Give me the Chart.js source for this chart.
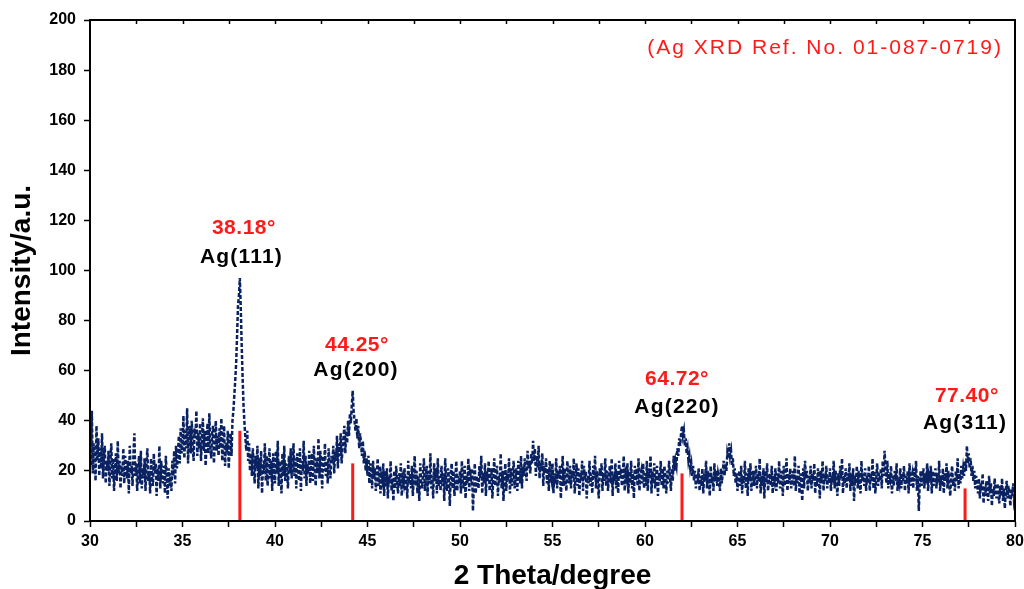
<!DOCTYPE html>
<html>
<head>
<meta charset="utf-8">
<script src="https://cdn.jsdelivr.net/npm/chart.js@4.4.1/dist/chart.umd.min.js"></script>
<style>
html,body{margin:0;padding:0;background:#fff;}
#wrap{width:1024px;height:589px;position:relative;}
</style>
</head>
<body>
<div id="wrap"><canvas id="c" width="1024" height="589"></canvas></div>
<script>
// ---- data ----
const thetaStart = 30;
const thetaStep = 0.05;
const intensity = [
 36,22,44,19,31,27,16,38,24,33,18,29,21,35,17,26,30,15,24,20,
 28,14,23,31,17,25,12,21,27,16,32,19,24,13,22,18,29,15,26,20,
 17,24,11,30,19,22,14,27,35,18,23,12,20,26,15,28,13,21,17,25,
 12,22,29,16,20,11,25,18,14,27,19,23,10,21,16,30,13,24,18,15,
 22,11,26,17,9,21,14,19,12,24,18,28,15,30,21,26,34,23,37,27,
 31,42,25,36,29,45,23,34,38,27,40,30,24,37,33,44,26,35,29,39,
 24,33,41,28,36,22,31,39,27,43,30,25,35,38,23,32,40,28,34,26,
 37,29,41,24,33,38,22,31,27,36,21,30,35,26,40,44,50,56,63,74,
 86,90,97,85,70,57,46,39,33,28,36,24,31,20,27,18,29,22,15,26,
 21,30,13,25,18,28,11,23,19,31,16,26,14,22,29,17,24,12,27,20,
 15,28,19,32,14,24,21,11,27,18,30,16,23,20,13,26,19,29,17,22,
 31,18,25,13,27,21,16,29,12,24,20,32,17,26,14,23,19,28,15,22,
 27,16,30,21,14,25,19,33,17,28,22,13,26,20,31,18,24,15,29,21,
 17,26,23,30,19,28,24,34,21,31,26,35,23,29,33,38,27,36,31,40,
 34,43,39,46,52,44,40,36,41,33,38,29,35,31,26,32,23,28,20,25,
 18,26,15,23,20,13,24,17,21,12,19,25,14,22,11,18,16,23,10,20,
 14,21,9,18,15,24,12,17,8,20,13,22,16,11,19,14,23,10,17,15,
 21,12,18,9,24,15,19,13,22,10,17,26,14,20,11,18,8,23,16,13,
 19,25,12,17,22,10,20,15,27,13,18,9,23,16,21,11,25,14,18,12,
 22,14,19,8,25,16,12,21,17,6,19,23,13,20,10,17,24,12,18,15,
 20,11,24,16,13,22,9,18,15,25,12,19,17,21,4,14,23,11,18,16,
 13,22,17,26,11,19,15,23,10,20,16,24,12,18,21,9,17,25,14,19,
 22,10,18,15,27,13,20,8,17,23,12,19,16,25,11,21,14,18,24,13,
 17,21,12,24,19,15,26,13,22,18,25,20,16,28,21,24,19,27,23,32,
 24,29,18,26,21,30,17,23,20,27,14,22,19,25,15,21,12,24,18,16,
 23,11,19,15,25,13,20,17,22,9,18,26,14,21,16,12,24,19,15,22,
 13,20,17,25,11,18,23,14,21,10,19,16,24,12,22,17,20,9,18,15,
 24,14,19,11,22,17,26,13,20,15,9,21,18,23,12,19,16,25,14,20,
 12,18,22,15,25,10,19,16,23,13,20,11,24,17,21,14,18,26,12,19,
 17,23,11,20,15,24,13,19,9,22,16,21,14,25,12,18,20,15,23,13,
 19,14,24,12,21,17,26,11,20,15,23,13,18,22,10,19,16,24,14,21,
 13,22,17,11,20,15,24,18,12,21,16,26,20,24,22,29,26,33,30,35,
 38,34,36,30,33,27,29,24,26,21,23,18,22,16,20,13,19,15,21,12,
 18,14,21,11,19,16,24,13,20,17,10,22,15,18,12,23,16,20,14,19,
 17,12,21,15,19,24,18,23,20,27,25,31,26,28,22,25,18,21,15,19,
 12,17,20,14,22,11,18,15,24,13,19,10,21,16,23,12,17,20,14,18,
 22,13,19,16,25,11,18,14,21,9,20,15,23,12,17,19,14,22,11,18,
 16,21,12,19,15,24,13,20,17,10,22,14,18,25,12,19,15,21,13,17,
 20,14,26,12,18,15,22,11,19,16,8,21,13,24,17,20,12,18,15,22,
 13,19,16,23,11,18,14,21,17,9,20,15,24,12,19,16,22,13,18,15,
 21,12,18,15,24,13,20,16,10,19,14,22,17,25,11,18,15,21,13,19,
 16,23,12,19,14,21,8,18,15,22,13,20,17,11,24,16,19,14,21,12,
 18,15,22,12,19,16,25,13,20,11,17,23,14,19,16,21,13,24,18,28,
 21,15,24,13,19,17,22,11,18,14,20,16,23,12,17,15,21,13,19,16,
 22,12,18,15,20,11,23,14,17,19,13,21,16,24,12,18,4,15,20,14,
 17,21,13,19,15,23,12,18,16,22,11,20,14,17,21,13,19,15,24,12,
 18,14,21,11,19,16,23,13,20,15,10,18,22,14,17,12,20,16,25,13,
 19,15,22,17,21,18,24,20,30,23,27,21,25,18,22,16,20,13,18,15,
 11,17,9,15,12,19,7,14,10,16,13,8,18,11,15,6,13,10,17,12,
 9,15,11,7,14,10,17,8,13,5,12,16,9,14,11,6,13,10,15,8,
 10
];
const refPositions = [38.1, 44.2, 62.0, 77.3];
const refHeights = [36, 23, 19, 13];
const peakAngles = ['38.18°', '44.25°', '64.72°', '77.40°'];
const peakPlanes = ['Ag(111)', 'Ag(200)', 'Ag(220)', 'Ag(311)'];
const refCardText = '(Ag XRD Ref. No. 01-087-0719)';
const xTickLabels = [30,35,40,45,50,55,60,65,70,75,80];
const yTickLabels = [0,20,40,60,80,100,120,140,160,180,200];

// ---- build ----
const xrdPoints = intensity.map((v, i) => ({x: +(thetaStart + i * thetaStep).toFixed(2), y: v}));
const refDatasets = refPositions.map((p, i) => ({
  type: 'line',
  data: [{x: p, y: 0}, {x: p, y: refHeights[i]}],
  borderColor: '#ff1a1a',
  borderWidth: 3,
  pointRadius: 0,
  order: 0
}));

// label anchor positions in data space (annotation layout)
const angleAnchors = [[38.32,117],[44.43,70.3],[61.73,56.7],[77.4,50]];
const planeAnchors = [[38.19,105.4],[44.38,60],[61.73,45.5],[77.3,39]];

const FONT = "'Liberation Sans', Arial, sans-serif";

const framePlugin = {
  id: 'frame',
  afterDatasetsDraw(chart) {
    const {ctx, chartArea: a, scales: {x, y}} = chart;
    ctx.save();
    ctx.strokeStyle = '#000';
    ctx.lineWidth = 1.5;
    for (let v = 32.5; v < 80; v += 2.5) {
      const px = Math.round(x.getPixelForValue(v)) + 0.5;
      ctx.beginPath(); ctx.moveTo(px, a.top); ctx.lineTo(px, a.top + 4); ctx.stroke();
    }
    ctx.lineWidth = 2;
    ctx.strokeRect(a.left, a.top, a.right - a.left, a.bottom - a.top);
    ctx.textAlign = 'center';
    ctx.textBaseline = 'middle';
    peakAngles.forEach((t, i) => {
      ctx.font = 'bold 21px ' + FONT;
      ctx.letterSpacing = '0.5px';
      ctx.fillStyle = '#ff1a1a';
      ctx.fillText(t, x.getPixelForValue(angleAnchors[i][0]), y.getPixelForValue(angleAnchors[i][1]));
      ctx.letterSpacing = '1.2px';
      ctx.fillStyle = '#000';
      ctx.fillText(peakPlanes[i], x.getPixelForValue(planeAnchors[i][0]), y.getPixelForValue(planeAnchors[i][1]));
    });
    ctx.font = '21px ' + FONT;
    ctx.letterSpacing = '2px';
    ctx.fillStyle = '#ff1a1a';
    ctx.textAlign = 'right';
    ctx.fillText(refCardText, x.getPixelForValue(79.35), y.getPixelForValue(188.6));
    ctx.restore();
  }
};

new Chart(document.getElementById('c'), {
  type: 'line',
  data: {
    datasets: [
      ...refDatasets,
      {
        data: xrdPoints,
        borderColor: '#0a2262',
        borderWidth: 2.5,
        borderDash: [4, 2],
        pointRadius: 0,
        tension: 0,
        order: 1
      }
    ]
  },
  options: {
    responsive: false,
    animation: false,
    events: [],
    layout: {padding: {left: 0, top: 20, right: 9, bottom: 0}},
    plugins: {legend: {display: false}, tooltip: {enabled: false}},
    scales: {
      x: {
        type: 'linear',
        min: 30, max: 80,
        afterBuildTicks(s) {
          const t = [];
          for (let v = 30; v <= 80.001; v += 2.5) t.push({value: v});
          s.ticks = t;
        },
        afterFit(s) { s.height = 68; s.paddingLeft = 0; s.paddingRight = 0; },
        grid: {display: true, drawOnChartArea: false, tickLength: 6, color: '#000', tickWidth: 1.5},
        border: {display: true, color: '#000', width: 2},
        ticks: {
          maxRotation: 0,
          autoSkip: false,
          padding: 5,
          color: '#000',
          font: {family: FONT, size: 16, weight: 'bold'},
          callback: (v) => xTickLabels.includes(v) ? String(v) : ''
        },
        title: {display: true, text: '2 Theta/degree', color: '#000',
          font: {family: FONT, size: 28, weight: 'bold'}, padding: {top: 0, bottom: -4}}
      },
      y: {
        min: 0, max: 200,
        afterBuildTicks(s) { s.ticks = yTickLabels.map(v => ({value: v})); },
        afterFit(s) { s.width = 90; s.paddingTop = 0; s.paddingBottom = 0; },
        grid: {display: true, drawOnChartArea: false, tickLength: 6, color: '#000', tickWidth: 1.5},
        border: {display: true, color: '#000', width: 2},
        ticks: {
          padding: 8,
          color: '#000',
          font: {family: FONT, size: 16, weight: 'bold'}
        },
        title: {display: true, text: 'Intensity/a.u.', color: '#000',
          font: {family: FONT, size: 28, weight: 'bold'}, padding: {top: 5, bottom: 0}}
      }
    }
  },
  plugins: [framePlugin]
});
</script>
</body>
</html>
